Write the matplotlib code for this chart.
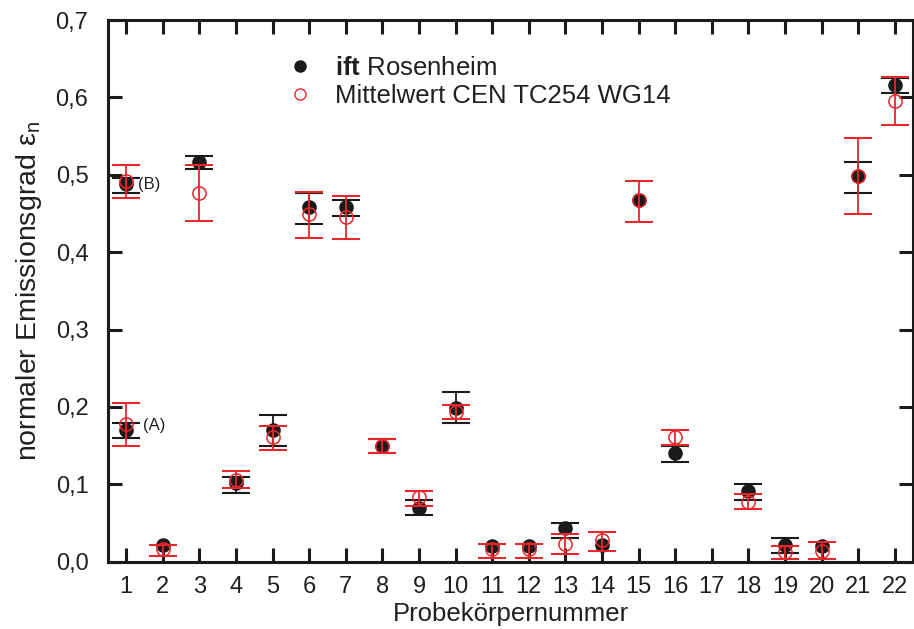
import matplotlib
matplotlib.use("Agg")
import matplotlib.pyplot as plt
from matplotlib.lines import Line2D
import numpy as np

plt.rcParams['font.family'] = ['Liberation Sans', 'DejaVu Sans']
plt.rcParams['mathtext.fontset'] = 'custom'
plt.rcParams['mathtext.rm'] = 'Liberation Sans'
plt.rcParams['mathtext.it'] = 'Liberation Sans:italic'
plt.rcParams['mathtext.bf'] = 'Liberation Sans:bold'

# Data (sample 1 has two variants: (A) and (B); sample 17 has no data)
samples = [1, 1, 2, 3, 4, 5, 6, 7, 8, 9, 10, 11, 12, 13, 14, 15, 16, 18, 19, 20, 21, 22]
ift = [0.170, 0.488, 0.021, 0.517, 0.102, 0.170, 0.458, 0.458, 0.149, 0.070, 0.199,
       0.020, 0.020, 0.043, 0.022, 0.467, 0.140, 0.091, 0.022, 0.020, 0.499, 0.616]
ift_lo = [0.160, 0.477, 0.021, 0.507, 0.089, 0.149, 0.437, 0.447, 0.140, 0.060, 0.179,
          0.020, 0.020, 0.031, 0.022, 0.467, 0.129, 0.080, 0.011, 0.020, 0.477, 0.606]
ift_hi = [0.179, 0.496, 0.021, 0.525, 0.109, 0.189, 0.477, 0.467, 0.159, 0.080, 0.219,
          0.020, 0.020, 0.050, 0.022, 0.467, 0.150, 0.100, 0.031, 0.020, 0.517, 0.625]
cen = [0.178, 0.492, 0.016, 0.477, 0.106, 0.161, 0.449, 0.445, 0.149, 0.083, 0.194,
       0.016, 0.016, 0.023, 0.028, 0.467, 0.161, 0.077, 0.013, 0.014, 0.499, 0.595]
cen_lo = [0.149, 0.470, 0.008, 0.440, 0.095, 0.145, 0.418, 0.417, 0.140, 0.072, 0.184,
          0.005, 0.005, 0.010, 0.014, 0.439, 0.151, 0.068, 0.004, 0.003, 0.449, 0.565]
cen_hi = [0.205, 0.513, 0.022, 0.513, 0.117, 0.176, 0.478, 0.473, 0.158, 0.091, 0.202,
          0.023, 0.023, 0.036, 0.038, 0.492, 0.170, 0.087, 0.020, 0.025, 0.548, 0.626]
xticks = list(range(1, 23))
yticks = [0.0, 0.1, 0.2, 0.3, 0.4, 0.5, 0.6, 0.7]
ytick_labels = ['0,0', '0,1', '0,2', '0,3', '0,4', '0,5', '0,6', '0,7']
annotations = [("(A)", 1.45, 0.176), ("(B)", 1.33, 0.488)]

BLACK = '#1a1a1a'
RED = '#e8262c'
TXT = '#231f20'

fig = plt.figure(figsize=(9.14, 6.29), dpi=100)
ax = fig.add_axes([0.118, 0.107, 0.881, 0.861])

x = np.array(samples, dtype=float)
ift_a = np.array(ift); cen_a = np.array(cen)
ilo = np.array(ift_lo); ihi = np.array(ift_hi)
clo = np.array(cen_lo); chi = np.array(cen_hi)

# black error bars (only where an interval is visible)
m = ihi > ilo
ax.errorbar(x[m], ift_a[m], yerr=[ift_a[m] - ilo[m], ihi[m] - ift_a[m]], fmt='none',
            ecolor=BLACK, elinewidth=1.3, capsize=10, capthick=1.5, zorder=2)
ax.plot(x, ift_a, 'o', ms=9.5, color=BLACK, mec=BLACK, zorder=3)
# red
ax.errorbar(x, cen_a, yerr=[cen_a - clo, chi - cen_a], fmt='none',
            ecolor=RED, elinewidth=1.3, capsize=10, capthick=1.5, zorder=4)
ax.plot(x, cen_a, 'o', ms=9.5, mfc='none', mec=RED, mew=1.1, zorder=5)

for txt, xv, yv in annotations:
    ax.text(xv, yv, txt, fontsize=12, color=TXT, va='center', ha='left')

ax.set_xlim(0.5, 22.5)
ax.set_ylim(0.0, 0.7)
ax.set_xticks(xticks)
ax.set_xticklabels([str(t) for t in xticks], fontsize=17, color=TXT)
ax.set_yticks(yticks)
ax.set_yticklabels(ytick_labels, fontsize=17, color=TXT)
ax.tick_params(axis='both', direction='in', length=10, width=2.2, top=True, right=True,
               color=BLACK)
ax.tick_params(axis='x', pad=10)
ax.tick_params(axis='y', pad=14)
for s in ax.spines.values():
    s.set_linewidth(2.2)
    s.set_color(BLACK)

ax.set_xlabel('Probekörpernummer', fontsize=18.5, color=TXT, labelpad=3)
ax.set_ylabel(r'normaler Emissionsgrad ε$_\mathrm{n}$', fontsize=20.5, color=TXT, labelpad=8)

handles = [Line2D([], [], ls='none', marker='o', ms=8, color=BLACK, mec=BLACK),
           Line2D([], [], ls='none', marker='o', ms=8, mfc='none', mec=RED, mew=1.0)]
labels = [r'$\mathbf{ift}$ Rosenheim', 'Mittelwert CEN TC254 WG14']
leg = ax.legend(handles, labels, loc='upper left', bbox_to_anchor=(0.21, 0.952),
                frameon=False, fontsize=18.5, handletextpad=0.85, labelspacing=0.15,
                handlelength=1.0, borderaxespad=0.0)
for t in leg.get_texts():
    t.set_color(TXT)

fig.savefig('out.png', dpi=100)
